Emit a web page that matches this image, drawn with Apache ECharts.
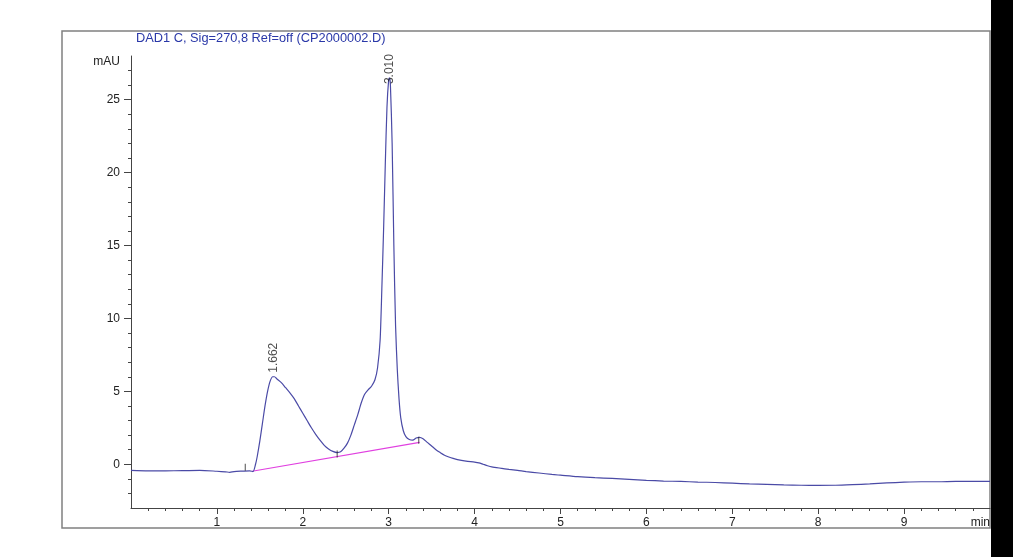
<!DOCTYPE html>
<html>
<head>
<meta charset="utf-8">
<script src="https://cdn.jsdelivr.net/npm/echarts@6/dist/echarts.min.js"></script>
<style>
html,body{margin:0;padding:0;background:#fff;}
#chart{width:1013px;height:557px;}
</style>
</head>
<body>
<div id="chart"></div>
<script>
// ---- data ----
const titleText = 'DAD1 C, Sig=270,8 Ref=off (CP2000002.D)';
const yUnit = 'mAU';
const xUnit = 'min';
const time = [0.00,0.20,0.40,0.60,0.80,1.00,1.10,1.15,1.20,1.30,1.38,1.42,1.45,1.47,1.50,1.53,1.56,1.59,1.62,1.65,1.67,1.70,1.75,1.80,1.85,1.90,1.95,2.00,2.05,2.10,2.15,2.20,2.25,2.30,2.35,2.40,2.44,2.48,2.52,2.56,2.60,2.64,2.68,2.72,2.76,2.80,2.84,2.87,2.90,2.92,2.94,2.96,2.98,3.00,3.01,3.02,3.04,3.06,3.08,3.10,3.12,3.14,3.17,3.20,3.24,3.28,3.32,3.36,3.40,3.45,3.50,3.55,3.60,3.65,3.70,3.75,3.80,3.90,4.00,4.05,4.10,4.15,4.20,4.30,4.40,4.50,4.60,4.75,4.90,5.00,5.20,5.40,5.60,5.80,6.00,6.20,6.40,6.60,6.80,7.00,7.20,7.40,7.60,7.80,8.00,8.20,8.40,8.60,8.80,9.00,9.20,9.40,9.60,9.80,10.00];
const signal = [-0.42,-0.45,-0.45,-0.44,-0.42,-0.48,-0.52,-0.55,-0.50,-0.47,-0.45,-0.50,0.00,0.55,1.60,2.80,4.00,5.00,5.70,6.00,6.00,5.85,5.60,5.25,4.90,4.50,4.00,3.50,3.00,2.50,2.05,1.65,1.30,1.05,0.88,0.80,0.85,1.10,1.45,2.00,2.70,3.40,4.20,4.80,5.10,5.35,5.80,6.60,8.50,12.0,16.0,20.5,24.5,26.4,26.5,26.0,22.0,15.0,9.5,6.5,4.5,3.2,2.3,1.9,1.7,1.65,1.80,1.85,1.75,1.50,1.25,1.00,0.80,0.62,0.50,0.40,0.32,0.22,0.15,0.10,0.00,-0.10,-0.18,-0.27,-0.35,-0.42,-0.50,-0.60,-0.70,-0.75,-0.85,-0.92,-0.97,-1.03,-1.10,-1.15,-1.18,-1.22,-1.25,-1.30,-1.35,-1.38,-1.42,-1.44,-1.45,-1.44,-1.40,-1.35,-1.28,-1.23,-1.20,-1.20,-1.17,-1.17,-1.17];
const baseT = [1.41, 3.36];
const baseY = [-0.48, 1.50];
const markT = [1.33, 2.40, 3.35];
const markY = [-0.2, 0.7, 1.65];
const peakNames = ['1.662', '3.010'];
const peakT = [1.662, 3.010];
const peakY = [6.0, 25.8];
const xTickLabels = [1,2,3,4,5,6,7,8,9];
const xMinorTicks = [0.2,0.4,0.6,0.8,1.2,1.4,1.6,1.8,2.2,2.4,2.6,2.8,3.2,3.4,3.6,3.8,4.2,4.4,4.6,4.8,5.2,5.4,5.6,5.8,6.2,6.4,6.6,6.8,7.2,7.4,7.6,7.8,8.2,8.4,8.6,8.8,9.2,9.4,9.6,9.8];
const yTickLabels = [0,5,10,15,20,25];
const yMinorTicks = [-2,-1,1,2,3,4,6,7,8,9,11,12,13,14,16,17,18,19,21,22,23,24,26,27];

const chart = echarts.init(document.getElementById('chart'), null, {renderer:'canvas'});
const FONT = 'Liberation Sans, Arial, sans-serif';
const axisColor = '#444';

const option = {
  animation: false,
  backgroundColor: '#fff',
  grid: {left: 131, top: 56, width: 859, height: 452, containLabel: false},
  xAxis: [
    {type:'value', min:0, max:10, position:'bottom',
     axisLine:{show:true, onZero:false, lineStyle:{color:axisColor, width:1}},
     axisTick:{show:true, length:6, customValues: xTickLabels, lineStyle:{color:axisColor}},
     axisLabel:{show:true, customValues: xTickLabels, margin:9, color:'#222', fontSize:12, fontFamily:FONT},
     splitLine:{show:false},
     name: xUnit, nameLocation:'end', nameGap:0,
     nameTextStyle:{align:'right', verticalAlign:'top', padding:[9,0,0,0], color:'#222', fontSize:12, fontFamily:FONT}
    },
    {type:'value', min:0, max:10, position:'bottom',
     axisLine:{show:false, onZero:false},
     axisTick:{show:true, length:3, customValues: xMinorTicks, lineStyle:{color:axisColor}},
     axisLabel:{show:false},
     splitLine:{show:false}
    }
  ],
  yAxis: [
    {type:'value', min:-3, max:28, position:'left',
     axisLine:{show:true, onZero:false, lineStyle:{color:axisColor, width:1}},
     axisTick:{show:true, length:7, customValues: yTickLabels, lineStyle:{color:axisColor}},
     axisLabel:{show:true, customValues: yTickLabels, margin:11, color:'#222', fontSize:12, fontFamily:FONT},
     splitLine:{show:false}
    },
    {type:'value', min:-3, max:28, position:'left',
     axisLine:{show:false, onZero:false},
     axisTick:{show:true, length:3, customValues: yMinorTicks, lineStyle:{color:axisColor}},
     axisLabel:{show:false},
     splitLine:{show:false}
    }
  ],
  graphic: [
    {type:'rect', z:-1, shape:{x:62, y:31, width:928, height:497}, style:{fill:'none', stroke:'#808080', lineWidth:1.5}},
    {type:'rect', z:10, shape:{x:991, y:0, width:22, height:557}, style:{fill:'#000'}},
    {type:'text', x:136, y:38, style:{text:titleText, align:'left', verticalAlign:'middle', fill:'#2a38a8', font:'12.8px ' + FONT}},
    {type:'text', x:120, y:62, style:{text:yUnit, align:'right', verticalAlign:'middle', fill:'#222', font:'12px ' + FONT}}
  ],
  series: [
    {type:'line', name:'signal', xAxisIndex:0, yAxisIndex:0,
     data: time.map((t,i)=>[t, signal[i]]),
     showSymbol:false, smooth:0.25, lineStyle:{color:'#4a4aa6', width:1.2}, z:3},
    {type:'line', name:'baseline', xAxisIndex:0, yAxisIndex:0,
     data: baseT.map((t,i)=>[t, baseY[i]]),
     showSymbol:false, lineStyle:{color:'#e040e0', width:1.2}, z:2},
    {type:'scatter', name:'marks', xAxisIndex:0, yAxisIndex:0,
     data: markT.map((t,i)=>[t, markY[i]]),
     symbol:'rect', symbolSize:[1,7], itemStyle:{color:'#222'}, z:4},
    {type:'scatter', name:'peaks', xAxisIndex:0, yAxisIndex:0,
     data: peakT.map((t,i)=>({value:[t, peakY[i]], name:peakNames[i]})),
     symbolSize:0, z:5,
     label:{show:true, formatter:p=>p.name, position:'top', distance:4, rotate:90, align:'left', verticalAlign:'middle', color:'#222', fontSize:12, fontFamily:FONT}
    }
  ]
};
chart.setOption(option);
</script>
</body>
</html>
